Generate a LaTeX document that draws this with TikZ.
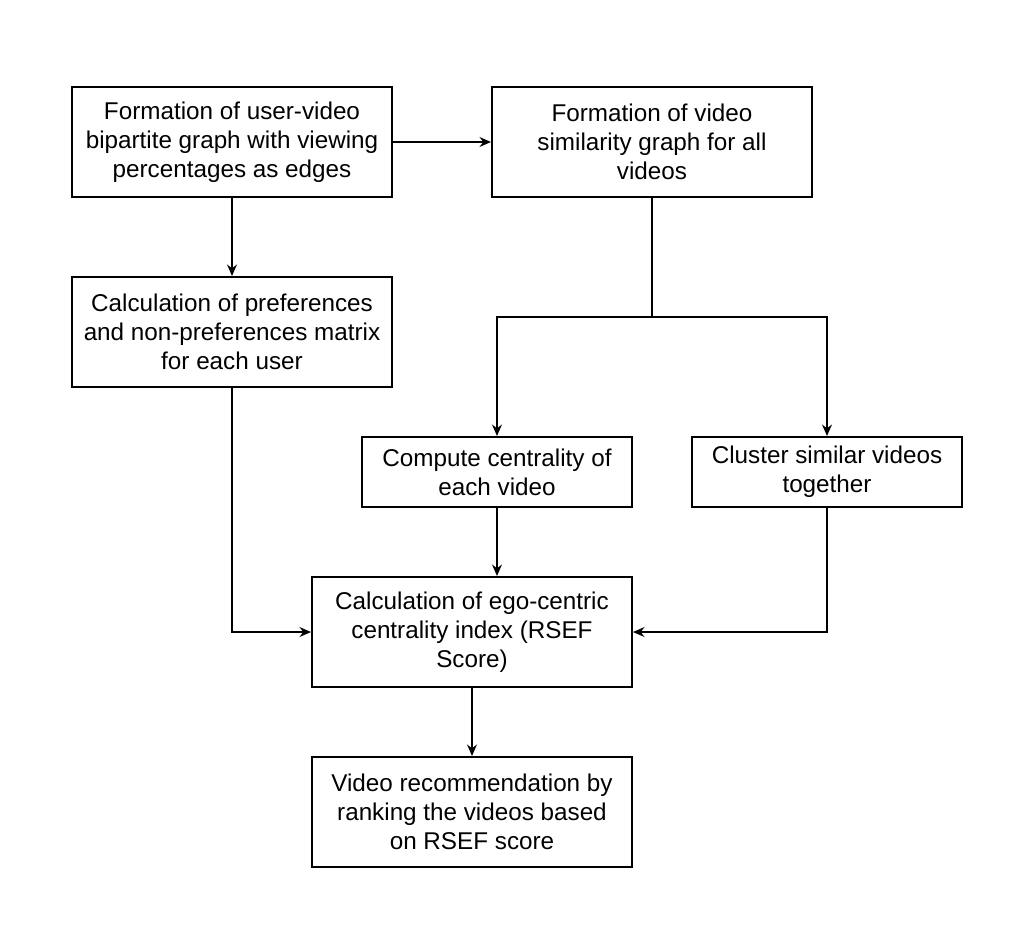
\documentclass[tikz,border=0pt]{standalone}
\usepackage{fontspec}
\setmainfont{Liberation Sans}
\usetikzlibrary{arrows.meta}

\begin{document}
\begin{tikzpicture}[
  x=0.02cm, y=-0.02cm,
  line width=1.15pt,
  stepbox/.style={draw, line width=1.15pt, align=center, inner sep=0pt,
    font=\fontsize{13.8pt}{16.4pt}\selectfont},
  widebox/.style={stepbox, minimum width=320*0.02cm, minimum height=110*0.02cm},
  smallbox/.style={stepbox, minimum width=270*0.02cm, minimum height=70*0.02cm},
  flow/.style={-{Stealth[length=6.5pt, width=5.6pt]}},
]
  \useasboundingbox (0,0) rectangle (1025,948);

  \node[widebox] (userGraph) at (232,142) {Formation of user-video\\bipartite graph with viewing\\percentages as edges};
  \node[widebox] (simGraph) at (652,142) {Formation of video\\similarity graph for all\\videos};
  \node[widebox] (prefMatrix) at (232,332) {Calculation of preferences\\and non-preferences matrix\\for each user};
  \node[smallbox] (centrality) at (497,472) {Compute centrality of\\each video};
  \node[smallbox] (cluster) at (827,472) {Cluster similar videos\\together};
  \node[widebox] (rsef) at (472,632) {Calculation of ego-centric\\centrality index (RSEF\\Score)};
  \node[widebox] (recommend) at (472,812) {Video recommendation by\\ranking the videos based\\on RSEF score};

  \coordinate (split) at (652,317);

  % connectors
  \draw[flow] (userGraph.east) -- (simGraph.west);
  \draw[flow] (userGraph.south) -- (prefMatrix.north);
  \draw (simGraph.south) -- (split);
  \draw[flow] (split) -| (centrality.north);
  \draw[flow] (split) -| (cluster.north);
  \draw[flow] (centrality.south) -- (centrality.south |- rsef.north);
  \draw[flow] (prefMatrix.south) |- (rsef.west);
  \draw[flow] (cluster.south) |- (rsef.east);
  \draw[flow] (rsef.south) -- (recommend.north);
\end{tikzpicture}
\end{document}
